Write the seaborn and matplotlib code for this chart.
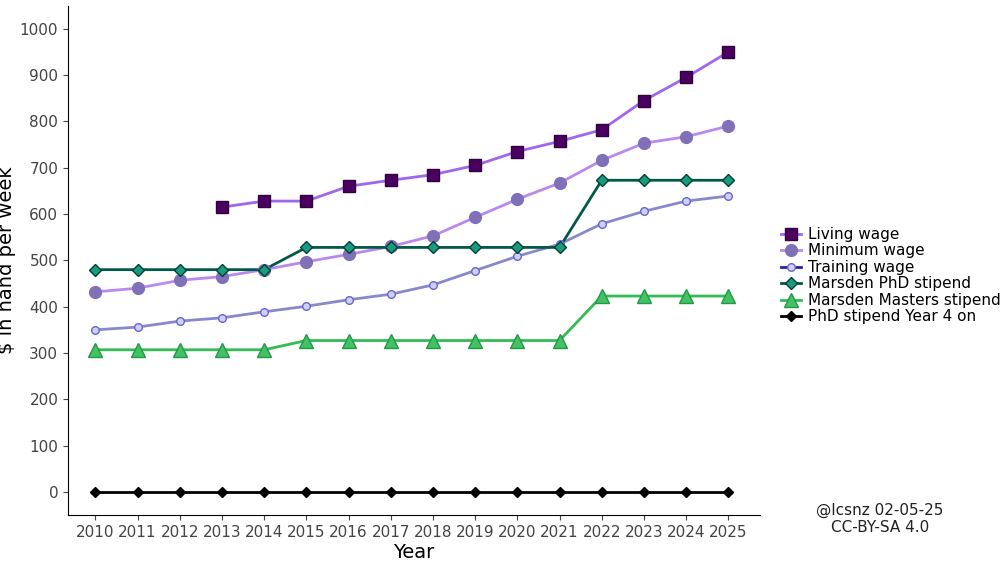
import matplotlib
matplotlib.use("Agg")
import matplotlib.pyplot as plt
import seaborn as sns
import pandas as pd
import numpy as np

years = list(range(2010, 2026))
living_years = list(range(2013, 2026))
living_wage = [615, 628, 628, 660, 673, 685, 705, 735, 757, 782, 845, 895, 950]
minimum_wage = [432, 440, 457, 465, 480, 497, 513, 530, 553, 593, 632, 667, 716, 753, 767, 790]
training_wage = [350, 356, 369, 376, 389, 401, 415, 427, 447, 478, 509, 535, 579, 606, 628, 639]
phd_stipend = [480, 480, 480, 480, 480, 528, 528, 528, 528, 528, 528, 528, 673, 673, 673, 673]
masters_stipend = [307, 307, 307, 307, 307, 327, 327, 327, 327, 327, 327, 327, 423, 423, 423, 423]
phd_year4 = [0] * 16

series = [
    ("Living wage", living_years, living_wage, "#A066EE", "s", "#4B0060", "#300040", 8),
    ("Minimum wage", years, minimum_wage, "#BB88F0", "o", "#8070B8", "#8070B8", 8.5),
    ("Training wage", years, training_wage, "#8888CC", "o", "#D0D0FF", "#6666CC", 5.5),
    ("Marsden PhD stipend", years, phd_stipend, "#005A48", "D", "#1A9A80", "#004030", 6),
    ("Marsden Masters stipend", years, masters_stipend, "#33BB55", "^", "#44C066", "#229944", 10),
    ("PhD stipend Year 4 on", years, phd_year4, "#000000", "D", "#000000", "#000000", 5.5),
]

fig, ax = plt.subplots(figsize=(10, 5.63), dpi=100)
fig.subplots_adjust(left=0.068, right=0.76, top=0.99, bottom=0.085)
handles = []
for name, xs, ys, lc, m, mfc, mec, ms in series:
    df = pd.DataFrame({"Year": xs, "v": ys})
    sns.lineplot(data=df, x="Year", y="v", ax=ax, color=lc, linewidth=2, legend=False)
    ax.plot(xs, ys, linestyle="none", marker=m, markersize=ms, markerfacecolor=mfc, markeredgecolor=mec, zorder=3)
    h, = ax.plot([], [], color=lc if name != "Training wage" else "#2222AA", linewidth=2, marker=m,
                 markersize=ms, markerfacecolor=mfc, markeredgecolor=mec, label=name)
    handles.append(h)

ax.set_xlim(2009.35, 2025.75)
ax.set_ylim(-50, 1050)
ax.set_xticks(years)
ax.set_yticks(range(0, 1001, 100))
ax.tick_params(labelsize=11, colors="#444444")
ax.set_xlabel("Year", fontsize=14, labelpad=2)
ax.set_ylabel("$ in hand per week", fontsize=14)
ax.yaxis.set_label_coords(-0.075, 0.5)
for s in ["top", "right"]:
    ax.spines[s].set_visible(False)
ax.legend(handles=handles, loc="center left", bbox_to_anchor=(1.01, 0.47), frameon=False,
          fontsize=11, handlelength=1.3, labelspacing=0.1, handletextpad=0.5)
fig.text(0.88, 0.055, "@lcsnz 02-05-25\nCC-BY-SA 4.0", ha="center", fontsize=11, color="#222222")
fig.savefig("out.png", dpi=100)
